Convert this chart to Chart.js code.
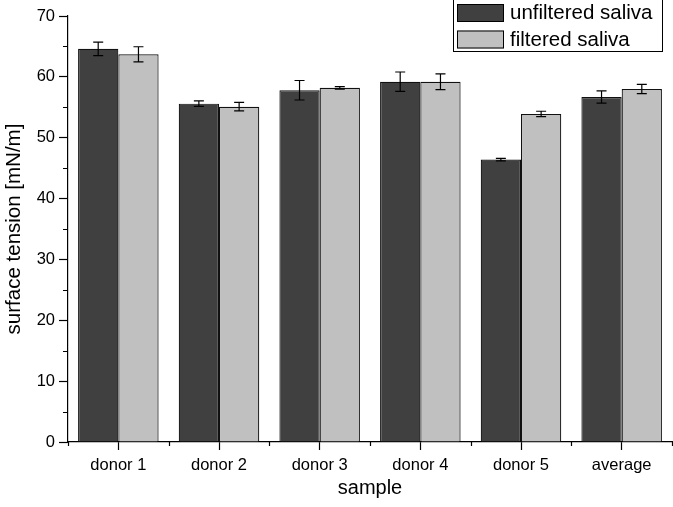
<!DOCTYPE html>
<html>
<head>
<meta charset="utf-8">
<script src="https://cdn.jsdelivr.net/npm/chart.js@4/dist/chart.umd.min.js"></script>
<style>
  html, body { margin: 0; padding: 0; background: #fff; }
  #wrap { width: 673px; height: 507px; position: relative; }
</style>
</head>
<body>
<div id="wrap"><canvas id="chart" width="673" height="507"></canvas></div>
<script>
// données
const categories = ['donor 1', 'donor 2', 'donor 3', 'donor 4', 'donor 5', 'average'];
const unfiltered = [64.6, 55.6, 57.8, 59.2, 46.4, 56.7];
const unfilteredErr = [1.1, 0.45, 1.6, 1.6, 0.2, 1.0];
const filtered = [63.7, 55.1, 58.2, 59.2, 53.9, 58.0];
const filteredErr = [1.25, 0.7, 0.2, 1.3, 0.45, 0.75];
const yTicks = [0, 10, 20, 30, 40, 50, 60, 70];
const yMinorTicks = [5, 15, 25, 35, 45, 55, 65];

const FONT = '"Liberation Sans", Arial, sans-serif';

// barres d'erreur
const errorBars = {
    id: 'errorBars',
    afterDatasetsDraw(chart) {
        const ctx = chart.ctx;
        const y = chart.scales.y;
        ctx.save();
        ctx.strokeStyle = '#000';
        ctx.lineWidth = 1.2;
        chart.data.datasets.forEach((ds, di) => {
            const meta = chart.getDatasetMeta(di);
            meta.data.forEach((bar, i) => {
                const v = ds.data[i], e = ds.errors[i];
                const top = y.getPixelForValue(v + e);
                const bot = y.getPixelForValue(v - e);
                ctx.beginPath();
                ctx.moveTo(bar.x, top); ctx.lineTo(bar.x, bot);
                ctx.moveTo(bar.x - 5, top); ctx.lineTo(bar.x + 5, top);
                ctx.moveTo(bar.x - 5, bot); ctx.lineTo(bar.x + 5, bot);
                ctx.stroke();
            });
        });
        ctx.restore();
    }
};

// petites graduations + légende encadrée
const extras = {
    id: 'extras',
    afterDraw(chart) {
        const ctx = chart.ctx;
        const x = chart.scales.x, y = chart.scales.y;
        const area = chart.chartArea;
        const step = x.getPixelForValue(1) - x.getPixelForValue(0);
        ctx.save();
        ctx.strokeStyle = '#000';
        ctx.lineWidth = 1.2;
        ctx.beginPath();
        yMinorTicks.forEach(v => {
            const py = Math.round(y.getPixelForValue(v)) + 0.5;
            ctx.moveTo(area.left - 5, py); ctx.lineTo(area.left, py);
        });
        for (let i = 0; i <= categories.length; i++) {
            const px = x.getPixelForValue(0) - step / 2 + i * step;
            ctx.moveTo(Math.round(px) + 0.5, area.bottom); ctx.lineTo(Math.round(px) + 0.5, area.bottom + 4);
        }
        ctx.stroke();

        // légende
        ctx.lineWidth = 1;
        ctx.strokeRect(453.5, -0.5, 209, 52);
        ctx.font = '20.5px ' + FONT;
        ctx.textBaseline = 'middle';
        chart.data.datasets.forEach((ds, i) => {
            const sy = 4 + i * 26.5;
            ctx.fillStyle = ds.backgroundColor;
            ctx.fillRect(457, sy, 47, 18);
            ctx.strokeRect(457.5, sy + 0.5, 46, 17);
            ctx.fillStyle = '#000';
            ctx.fillText(ds.label, 510, sy + 9.5);
        });
        ctx.restore();
    }
};

new Chart(document.getElementById('chart'), {
    type: 'bar',
    data: {
        labels: categories,
        datasets: [
            { label: 'unfiltered saliva', data: unfiltered, errors: unfilteredErr,
              backgroundColor: '#404040', borderColor: '#111', borderWidth: 1.2 },
            { label: 'filtered saliva', data: filtered, errors: filteredErr,
              backgroundColor: '#c0c0c0', borderColor: '#111', borderWidth: 1.2 }
        ]
    },
    options: {
        responsive: false,
        animation: false,
        layout: { padding: { top: 16, right: 1, left: 0, bottom: 0 } },
        datasets: { bar: { categoryPercentage: 0.8, barPercentage: 1.0 } },
        plugins: { legend: { display: false }, tooltip: { enabled: false } },
        scales: {
            x: {
                afterFit: s => { s.height = 65; },
                grid: { offset: false, drawOnChartArea: false, tickLength: 8, tickColor: '#000', tickWidth: 1.2 },
                border: { color: '#000', width: 1.2 },
                ticks: { color: '#000', font: { family: FONT, size: 16.5 }, padding: 6, maxRotation: 0 },
                title: { display: true, text: 'sample', color: '#000',
                         font: { family: FONT, size: 20 }, padding: { top: 0, bottom: 7 } }
            },
            y: {
                min: 0, max: 70,
                afterFit: s => { s.width = 68; },
                afterBuildTicks: s => { s.ticks = yTicks.map(v => ({ value: v })); },
                grid: { drawOnChartArea: false, tickLength: 9, tickColor: '#000', tickWidth: 1.2 },
                border: { color: '#000', width: 1.2 },
                ticks: { color: '#000', font: { family: FONT, size: 16.5 }, padding: 4 },
                title: { display: true, text: 'surface tension [mN/m]', color: '#000',
                         font: { family: FONT, size: 20.5 }, padding: { top: 2, bottom: 0 } }
            }
        }
    },
    plugins: [errorBars, extras]
});
</script>
</body>
</html>
